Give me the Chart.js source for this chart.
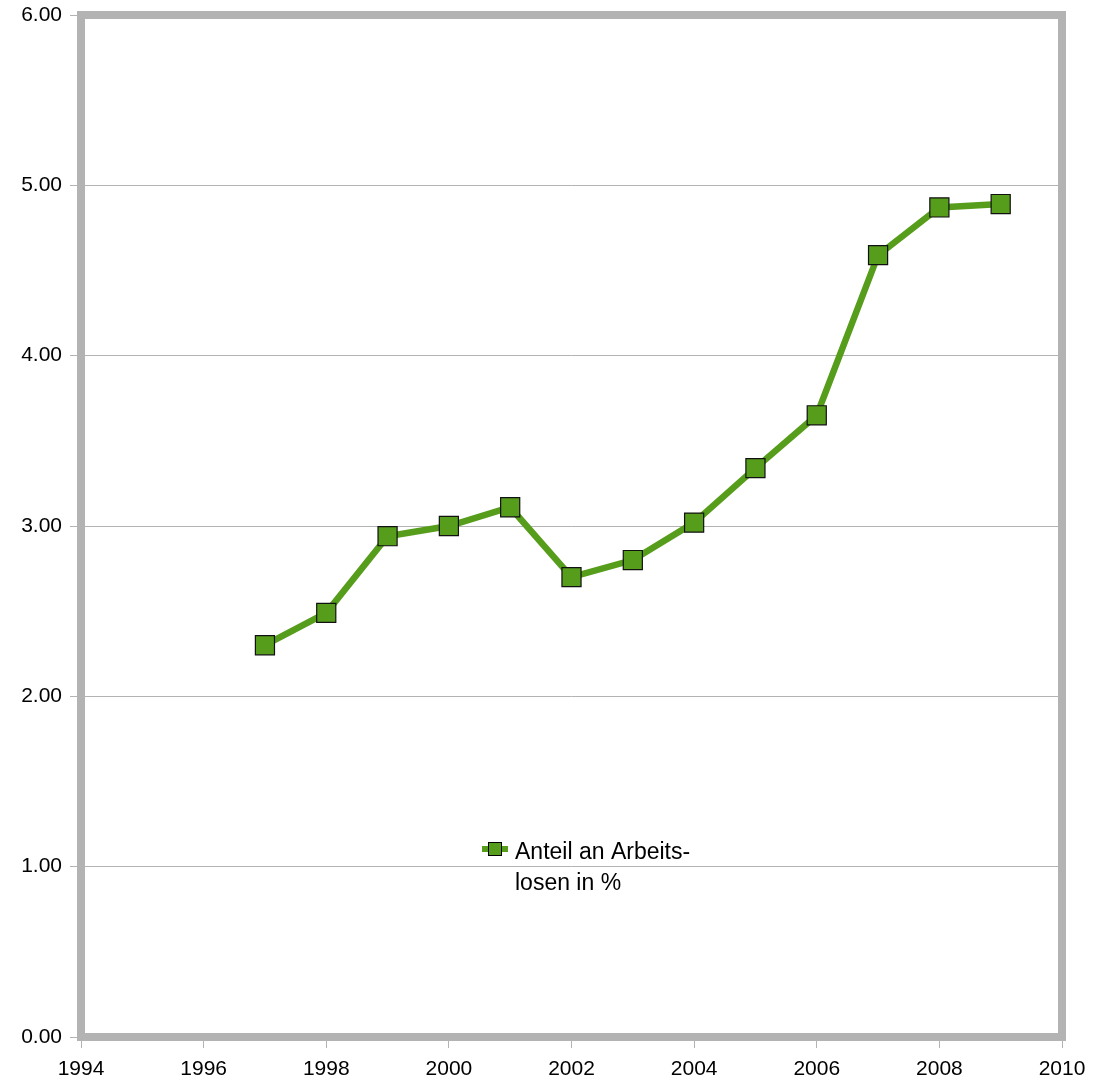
<!DOCTYPE html>
<html>
<head>
<meta charset="utf-8">
<script src="https://cdn.jsdelivr.net/npm/chart.js@4.4.1/dist/chart.umd.min.js"></script>
<style>
    html, body { margin: 0; padding: 0; background: #fff; }
    canvas { display: block; }
</style>
</head>
<body>
<canvas id="myLineChart" width="1103" height="1084"></canvas>
<script>
// Data
var years = [1997, 1998, 1999, 2000, 2001, 2002, 2003, 2004, 2005, 2006, 2007, 2008, 2009];
var shares = [2.30, 2.49, 2.94, 3.00, 3.11, 2.70, 2.80, 3.02, 3.34, 3.65, 4.59, 4.87, 4.89];
var xTicks = [1994, 1996, 1998, 2000, 2002, 2004, 2006, 2008, 2010];
var yTicks = [0, 1, 2, 3, 4, 5, 6];
var seriesLabel = ['Anteil an Arbeits-', 'losen in %'];

var green = '#579d1c';
var gray = '#b3b3b3';
var fontFamily = '"Liberation Sans", Arial, sans-serif';

// Thick gray frame round the plot area
var framePlugin = {
    id: 'frame',
    beforeDatasetsDraw: function (chart) {
        var a = chart.chartArea, ctx = chart.ctx;
        ctx.save();
        ctx.strokeStyle = gray;
        ctx.lineWidth = 8;
        ctx.strokeRect(a.left, a.top, a.right - a.left, a.bottom - a.top);
        ctx.restore();
    }
};

// Legend sits inside the plot area, two lines of text
var legendPlugin = {
    id: 'insideLegend',
    afterDraw: function (chart) {
        var ctx = chart.ctx;
        ctx.save();
        ctx.strokeStyle = green;
        ctx.lineWidth = 6;
        ctx.beginPath();
        ctx.moveTo(482, 849);
        ctx.lineTo(508, 849);
        ctx.stroke();
        ctx.fillStyle = green;
        ctx.fillRect(488, 842, 14, 14);
        ctx.strokeStyle = '#000';
        ctx.lineWidth = 1;
        ctx.strokeRect(488.5, 842.5, 13, 13);
        ctx.fillStyle = '#000';
        ctx.font = '23px ' + fontFamily;
        ctx.textBaseline = 'alphabetic';
        ctx.fillText(seriesLabel[0], 515, 859);
        ctx.fillText(seriesLabel[1], 515, 890);
        ctx.restore();
    }
};

document.addEventListener('DOMContentLoaded', function () {
    var ctxLine = document.getElementById('myLineChart').getContext('2d');
    new Chart(ctxLine, {
        type: 'line',
        data: {
            datasets: [{
                label: seriesLabel.join(''),
                data: years.map(function (y, i) { return { x: y, y: shares[i] }; }),
                borderColor: green,
                borderWidth: 6.5,
                backgroundColor: green,
                pointStyle: 'rect',
                pointRadius: 13.5,
                pointBorderColor: '#111',
                pointBorderWidth: 1.2,
                pointBackgroundColor: green,
                tension: 0
            }]
        },
        plugins: [framePlugin, legendPlugin],
        options: {
            responsive: false,
            animation: false,
            devicePixelRatio: 1,
            layout: { padding: { left: 0, top: 15, right: 41, bottom: 0 } },
            plugins: {
                legend: { display: false },
                tooltip: { enabled: false }
            },
            scales: {
                x: {
                    type: 'linear',
                    min: xTicks[0],
                    max: xTicks[xTicks.length - 1],
                    afterBuildTicks: function (scale) {
                        scale.ticks = xTicks.map(function (v) { return { value: v }; });
                    },
                    afterFit: function (scale) {
                        scale.height = 47;
                        scale.paddingLeft = 0;
                        scale.paddingRight = 0;
                    },
                    grid: { drawOnChartArea: false, color: gray, tickLength: 11 },
                    border: { display: false },
                    ticks: {
                        color: '#000',
                        font: { family: fontFamily, size: 21 },
                        padding: 9,
                        maxRotation: 0,
                        callback: function (v) { return String(v); }
                    }
                },
                y: {
                    min: yTicks[0],
                    max: yTicks[yTicks.length - 1],
                    afterBuildTicks: function (scale) {
                        scale.ticks = yTicks.map(function (v) { return { value: v }; });
                    },
                    afterFit: function (scale) {
                        scale.width = 81;
                        scale.paddingTop = 0;
                        scale.paddingBottom = 0;
                    },
                    grid: { color: gray, tickLength: 11 },
                    border: { display: false },
                    ticks: {
                        color: '#000',
                        font: { family: fontFamily, size: 21 },
                        padding: 8,
                        callback: function (v) { return v.toFixed(2); }
                    }
                }
            }
        }
    });
});
</script>
</body>
</html>
